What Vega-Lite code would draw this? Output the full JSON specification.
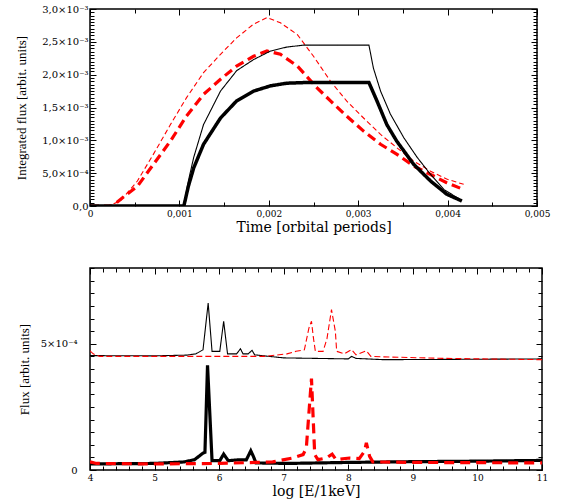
{
  "$schema": "https://vega.github.io/schema/vega-lite/v6.json",
  "background": "white",
  "padding": {"left": 14, "top": 3, "right": 0, "bottom": 0},
  "spacing": 27,
  "align": "none",
  "resolve": {"scale": {"color": "independent", "strokeDash": "independent", "strokeWidth": "independent"}},
  "config": {
    "view": {"stroke": "#000", "strokeWidth": 1.5},
    "axis": {
      "domain": false, "grid": false, "tickColor": "#000", "tickWidth": 1,
      "labelFont": "DejaVu Serif", "labelFontSize": 9, "labelColor": "#000",
      "labelOverlap": false, "labelFlush": false, "labelBound": false,
      "titleColor": "#000", "titleFontWeight": "normal"
    }
  },
  "datasets": {
    "top": [
      {"s":"A","x":0,"y":0},{"s":"A","x":0.0002,"y":0},{"s":"A","x":0.00034,"y":0.000076},{"s":"A","x":0.00053,"y":0.00038},{"s":"A","x":0.00071,"y":0.00079},{"s":"A","x":0.0009,"y":0.00124},{"s":"A","x":0.00108,"y":0.00165},{"s":"A","x":0.00127,"y":0.00203},{"s":"A","x":0.00146,"y":0.00231},{"s":"A","x":0.00164,"y":0.00256},{"s":"A","x":0.00183,"y":0.00277},{"s":"A","x":0.00198,"y":0.00287},{"s":"A","x":0.00213,"y":0.00279},{"s":"A","x":0.00232,"y":0.00261},{"s":"A","x":0.0025,"y":0.00228},{"s":"A","x":0.00269,"y":0.0019},{"s":"A","x":0.00287,"y":0.0016},{"s":"A","x":0.00306,"y":0.00134},{"s":"A","x":0.00325,"y":0.00109},{"s":"A","x":0.00343,"y":0.00089},{"s":"A","x":0.00362,"y":0.000685},{"s":"A","x":0.00381,"y":0.00053},{"s":"A","x":0.00399,"y":0.00041},{"s":"A","x":0.00418,"y":0.00033},
      {"s":"B","x":0,"y":0},{"s":"B","x":0.00025,"y":0},{"s":"B","x":0.00034,"y":0.0001},{"s":"B","x":0.00053,"y":0.0003},{"s":"B","x":0.00071,"y":0.000635},{"s":"B","x":0.0009,"y":0.00099},{"s":"B","x":0.00108,"y":0.00137},{"s":"B","x":0.00127,"y":0.0017},{"s":"B","x":0.00146,"y":0.00193},{"s":"B","x":0.00164,"y":0.00213},{"s":"B","x":0.00183,"y":0.00228},{"s":"B","x":0.00198,"y":0.00236},{"s":"B","x":0.00213,"y":0.00231},{"s":"B","x":0.00232,"y":0.00213},{"s":"B","x":0.00254,"y":0.0018},{"s":"B","x":0.00269,"y":0.0016},{"s":"B","x":0.00287,"y":0.00137},{"s":"B","x":0.00306,"y":0.00114},{"s":"B","x":0.00325,"y":0.00094},{"s":"B","x":0.00343,"y":0.00079},{"s":"B","x":0.00362,"y":0.00061},{"s":"B","x":0.00381,"y":0.00048},{"s":"B","x":0.00399,"y":0.000355},{"s":"B","x":0.00418,"y":0.00025},
      {"s":"C","x":0,"y":0},{"s":"C","x":0.00105,"y":0},{"s":"C","x":0.0011,"y":0.00038},{"s":"C","x":0.00116,"y":0.00074},{"s":"C","x":0.00127,"y":0.00124},{"s":"C","x":0.00146,"y":0.00175},{"s":"C","x":0.00164,"y":0.00206},{"s":"C","x":0.00183,"y":0.00223},{"s":"C","x":0.00202,"y":0.00236},{"s":"C","x":0.0022,"y":0.00242},{"s":"C","x":0.00239,"y":0.00245},{"s":"C","x":0.00312,"y":0.00245},{"s":"C","x":0.00317,"y":0.0021},{"s":"C","x":0.00325,"y":0.00175},{"s":"C","x":0.00336,"y":0.0014},{"s":"C","x":0.00351,"y":0.00104},{"s":"C","x":0.00366,"y":0.00074},{"s":"C","x":0.00381,"y":0.00048},{"s":"C","x":0.00396,"y":0.00025},{"s":"C","x":0.00414,"y":0.0001},
      {"s":"D","x":0,"y":0},{"s":"D","x":0.00105,"y":0},{"s":"D","x":0.0011,"y":0.0003},{"s":"D","x":0.00116,"y":0.00058},{"s":"D","x":0.00127,"y":0.00094},{"s":"D","x":0.00146,"y":0.00134},{"s":"D","x":0.00164,"y":0.0016},{"s":"D","x":0.00183,"y":0.00175},{"s":"D","x":0.00202,"y":0.00183},{"s":"D","x":0.0022,"y":0.00187},{"s":"D","x":0.0024,"y":0.00188},{"s":"D","x":0.00312,"y":0.00188},{"s":"D","x":0.00321,"y":0.0016},{"s":"D","x":0.00332,"y":0.00124},{"s":"D","x":0.00343,"y":0.00099},{"s":"D","x":0.00362,"y":0.000635},{"s":"D","x":0.00381,"y":0.00038},{"s":"D","x":0.00399,"y":0.00018},{"s":"D","x":0.00416,"y":0.000076}
    ],
    "bottom": [
      {"s":"E","x":4,"y":0.000453},{"s":"E","x":5,"y":0.000452},{"s":"E","x":5.5,"y":0.000455},{"s":"E","x":5.64,"y":0.00046},{"s":"E","x":5.75,"y":0.000476},{"s":"E","x":5.83,"y":0.000661},{"s":"E","x":5.89,"y":0.00047},{"s":"E","x":6.01,"y":0.00047},{"s":"E","x":6.07,"y":0.000589},{"s":"E","x":6.13,"y":0.00046},{"s":"E","x":6.27,"y":0.00046},{"s":"E","x":6.33,"y":0.00048},{"s":"E","x":6.37,"y":0.00046},{"s":"E","x":6.45,"y":0.00046},{"s":"E","x":6.51,"y":0.000474},{"s":"E","x":6.55,"y":0.000456},{"s":"E","x":7,"y":0.000444},{"s":"E","x":7.5,"y":0.000442},{"s":"E","x":8.0,"y":0.00044},{"s":"E","x":8.05,"y":0.00045},{"s":"E","x":8.12,"y":0.000442},{"s":"E","x":8.54,"y":0.000437},{"s":"E","x":9.5,"y":0.000438},{"s":"E","x":11,"y":0.00044},
      {"s":"F","x":4,"y":0.000472},{"s":"F","x":4.05,"y":0.00046},{"s":"F","x":4.15,"y":0.00045},{"s":"F","x":5,"y":0.00045},{"s":"F","x":6,"y":0.00045},{"s":"F","x":6.7,"y":0.00045},{"s":"F","x":7.05,"y":0.00046},{"s":"F","x":7.19,"y":0.00047},{"s":"F","x":7.32,"y":0.000476},{"s":"F","x":7.39,"y":0.000562},{"s":"F","x":7.43,"y":0.000589},{"s":"F","x":7.46,"y":0.000523},{"s":"F","x":7.49,"y":0.00047},{"s":"F","x":7.61,"y":0.00047},{"s":"F","x":7.67,"y":0.00052},{"s":"F","x":7.74,"y":0.000635},{"s":"F","x":7.8,"y":0.000549},{"s":"F","x":7.82,"y":0.00047},{"s":"F","x":7.94,"y":0.00046},{"s":"F","x":8.05,"y":0.000477},{"s":"F","x":8.12,"y":0.000456},{"s":"F","x":8.28,"y":0.000472},{"s":"F","x":8.35,"y":0.00045},{"s":"F","x":8.54,"y":0.000448},{"s":"F","x":9.5,"y":0.000442},{"s":"F","x":11,"y":0.000437},
      {"s":"G","x":4,"y":0.000024},{"s":"G","x":5,"y":0.000026},{"s":"G","x":5.46,"y":0.000032},{"s":"G","x":5.62,"y":0.000041},{"s":"G","x":5.75,"y":0.000067},{"s":"G","x":5.78,"y":0.00007},{"s":"G","x":5.82,"y":0.000415},{"s":"G","x":5.89,"y":0.000037},{"s":"G","x":6.01,"y":0.000037},{"s":"G","x":6.07,"y":0.000063},{"s":"G","x":6.14,"y":0.000037},{"s":"G","x":6.29,"y":0.00004},{"s":"G","x":6.42,"y":0.00004},{"s":"G","x":6.44,"y":0.00005},{"s":"G","x":6.49,"y":0.000076},{"s":"G","x":6.53,"y":0.000054},{"s":"G","x":6.57,"y":0.000028},{"s":"G","x":7.07,"y":0.000026},{"s":"G","x":8,"y":0.00003},{"s":"G","x":9,"y":0.000033},{"s":"G","x":10,"y":0.000035},{"s":"G","x":11,"y":0.000038},
      {"s":"H","x":4,"y":0.000032},{"s":"H","x":4.1,"y":0.000026},{"s":"H","x":5,"y":0.000024},{"s":"H","x":6,"y":0.000026},{"s":"H","x":6.83,"y":0.000032},{"s":"H","x":7.14,"y":0.0000475},{"s":"H","x":7.3,"y":0.000061},{"s":"H","x":7.35,"y":0.000087},{"s":"H","x":7.43,"y":0.000362},{"s":"H","x":7.48,"y":0.000061},{"s":"H","x":7.53,"y":0.000041},{"s":"H","x":7.66,"y":0.0000475},{"s":"H","x":7.75,"y":0.000063},{"s":"H","x":7.81,"y":0.000041},{"s":"H","x":8.02,"y":0.0000475},{"s":"H","x":8.17,"y":0.000045},{"s":"H","x":8.25,"y":0.000074},{"s":"H","x":8.28,"y":0.000107},{"s":"H","x":8.33,"y":0.000054},{"s":"H","x":8.38,"y":0.000032},{"s":"H","x":9,"y":0.00003},{"s":"H","x":10,"y":0.000029},{"s":"H","x":11,"y":0.000028}
    ]
  },
  "vconcat": [
    {
      "width": 447, "height": 197,
      "data": {"name": "top"},
      "layer": [
        {
          "mark": {"type": "line", "clip": true},
          "encoding": {
            "x": {"field": "x", "type": "quantitative", "scale": {"domain": [0, 0.005], "nice": false, "zero": false},
              "axis": {"orient": "bottom", "title": "Time [orbital periods]", "titleFont": "DejaVu Serif", "titleFontSize": 14, "titlePadding": 0,
                "values": [0,0.0005,0.001,0.0015,0.002,0.0025,0.003,0.0035,0.004,0.0045,0.005],
                "labelExpr": "round(datum.value*2000)%2==0 ? ['0','0,001','0,002','0,003','0,004','0,005'][round(datum.value*1000)] : ''",
                "tickSize": {"condition": {"test": "round(datum.value*2000)%2==0", "value": -6}, "value": -4},
                "labelPadding": 9}},
            "y": {"field": "y", "type": "quantitative", "scale": {"domain": [0, 0.003], "nice": false},
              "axis": {"orient": "left", "title": "Integrated flux [arbit. units]", "titleFont": "Liberation Serif", "titleFontSize": 13, "titlePadding": 13,
                "values": [0,0.00005,0.0001,0.00015,0.0002,0.00025,0.0003,0.00035,0.0004,0.00045,0.0005,0.00055,0.0006,0.00065,0.0007,0.00075,0.0008,0.00085,0.0009,0.00095,0.001,0.00105,0.0011,0.00115,0.0012,0.00125,0.0013,0.00135,0.0014,0.00145,0.0015,0.00155,0.0016,0.00165,0.0017,0.00175,0.0018,0.00185,0.0019,0.00195,0.002,0.00205,0.0021,0.00215,0.0022,0.00225,0.0023,0.00235,0.0024,0.00245,0.0025,0.00255,0.0026,0.00265,0.0027,0.00275,0.0028,0.00285,0.0029,0.00295,0.003],
                "labelExpr": "round(datum.value*20000)%10==0 ? ['0,0','5,0×10⁻⁴','1,0×10⁻³','1,5×10⁻³','2,0×10⁻³','2,5×10⁻³','3,0×10⁻³'][round(datum.value*2000)] : ''",
                "tickSize": {"condition": {"test": "round(datum.value*20000)%10==0", "value": -6}, "value": -4},
                "labelFontSize": 10, "labelPadding": 8}},
            "color": {"field": "s", "type": "nominal", "scale": {"domain": ["A","B","C","D"], "range": ["#ff0000","#ff0000","#000000","#000000"]}, "legend": null},
            "strokeDash": {"field": "s", "type": "nominal", "scale": {"domain": ["A","B","C","D"], "range": [[5,3],[9,5],[1,0],[1,0]]}, "legend": null},
            "strokeWidth": {"field": "s", "type": "nominal", "scale": {"type": "ordinal", "domain": ["A","B","C","D"], "range": [1.1,3.2,1.1,3.5]}, "legend": null}
          }
        },
        {
          "mark": {"type": "line", "strokeOpacity": 0},
          "encoding": {
            "x": {"field": "x", "type": "quantitative",
              "axis": {"orient": "top", "title": null, "labels": false,
                "values": [0,0.0005,0.001,0.0015,0.002,0.0025,0.003,0.0035,0.004,0.0045,0.005],
                "tickSize": {"condition": {"test": "round(datum.value*2000)%2==0", "value": -6}, "value": -4}}},
            "y": {"field": "y", "type": "quantitative",
              "axis": {"orient": "right", "title": null, "labels": false,
                "values": [0,0.00005,0.0001,0.00015,0.0002,0.00025,0.0003,0.00035,0.0004,0.00045,0.0005,0.00055,0.0006,0.00065,0.0007,0.00075,0.0008,0.00085,0.0009,0.00095,0.001,0.00105,0.0011,0.00115,0.0012,0.00125,0.0013,0.00135,0.0014,0.00145,0.0015,0.00155,0.0016,0.00165,0.0017,0.00175,0.0018,0.00185,0.0019,0.00195,0.002,0.00205,0.0021,0.00215,0.0022,0.00225,0.0023,0.00235,0.0024,0.00245,0.0025,0.00255,0.0026,0.00265,0.0027,0.00275,0.0028,0.00285,0.0029,0.00295,0.003],
                "tickSize": {"condition": {"test": "round(datum.value*20000)%10==0", "value": -6}, "value": -4}}}
          }
        }
      ],
      "resolve": {"axis": {"x": "independent", "y": "independent"}}
    },
    {
      "width": 452, "height": 202,
      "data": {"name": "bottom"},
      "layer": [
        {
          "mark": {"type": "line", "clip": true},
          "encoding": {
            "x": {"field": "x", "type": "quantitative", "scale": {"domain": [4, 11], "nice": false, "zero": false},
              "axis": {"orient": "bottom", "title": "log [E/1keV]", "titleFont": "DejaVu Serif", "titleFontSize": 14, "titlePadding": 0,
                "values": [4,4.2,4.4,4.6,4.8,5,5.2,5.4,5.6,5.8,6,6.2,6.4,6.6,6.8,7,7.2,7.4,7.6,7.8,8,8.2,8.4,8.6,8.8,9,9.2,9.4,9.6,9.8,10,10.2,10.4,10.6,10.8,11],
                "labelExpr": "abs(datum.value-round(datum.value))<0.01 ? format(datum.value,'d') : ''",
                "tickSize": {"condition": {"test": "abs(datum.value-round(datum.value))<0.01", "value": -6}, "value": -4},
                "labelPadding": 9}},
            "y": {"field": "y", "type": "quantitative", "scale": {"domain": [0, 0.0008], "nice": false},
              "axis": {"orient": "left", "title": "Flux [arbit. units]", "titleFont": "Liberation Serif", "titleFontSize": 13, "titlePadding": 9,
                "values": [0,0.00005,0.0001,0.00015,0.0002,0.00025,0.0003,0.00035,0.0004,0.00045,0.0005,0.00055,0.0006,0.00065,0.0007,0.00075,0.0008],
                "labelExpr": "round(datum.value*20000)%10==0 ? (round(datum.value*2000)==0 ? '0' : '5×10⁻⁴') : ''",
                "tickSize": {"condition": {"test": "round(datum.value*20000)%10==0", "value": -6}, "value": -4},
                "labelFontSize": 10, "labelPadding": 19}},
            "color": {"field": "s", "type": "nominal", "scale": {"domain": ["E","F","G","H"], "range": ["#000000","#ff0000","#000000","#ff0000"]}, "legend": null},
            "strokeDash": {"field": "s", "type": "nominal", "scale": {"domain": ["E","F","G","H"], "range": [[1,0],[6,3],[1,0],[10,6]]}, "legend": null},
            "strokeWidth": {"field": "s", "type": "nominal", "scale": {"type": "ordinal", "domain": ["E","F","G","H"], "range": [1.1,1.1,3.2,3.2]}, "legend": null}
          }
        },
        {
          "mark": {"type": "line", "strokeOpacity": 0},
          "encoding": {
            "x": {"field": "x", "type": "quantitative",
              "axis": {"orient": "top", "title": null, "labels": false,
                "values": [4,4.2,4.4,4.6,4.8,5,5.2,5.4,5.6,5.8,6,6.2,6.4,6.6,6.8,7,7.2,7.4,7.6,7.8,8,8.2,8.4,8.6,8.8,9,9.2,9.4,9.6,9.8,10,10.2,10.4,10.6,10.8,11],
                "tickSize": {"condition": {"test": "abs(datum.value-round(datum.value))<0.01", "value": -6}, "value": -4}}},
            "y": {"field": "y", "type": "quantitative",
              "axis": {"orient": "right", "title": null, "labels": false,
                "values": [0,0.00005,0.0001,0.00015,0.0002,0.00025,0.0003,0.00035,0.0004,0.00045,0.0005,0.00055,0.0006,0.00065,0.0007,0.00075,0.0008],
                "tickSize": {"condition": {"test": "round(datum.value*20000)%10==0", "value": -6}, "value": -4}}}
          }
        }
      ],
      "resolve": {"axis": {"x": "independent", "y": "independent"}}
    }
  ]
}
